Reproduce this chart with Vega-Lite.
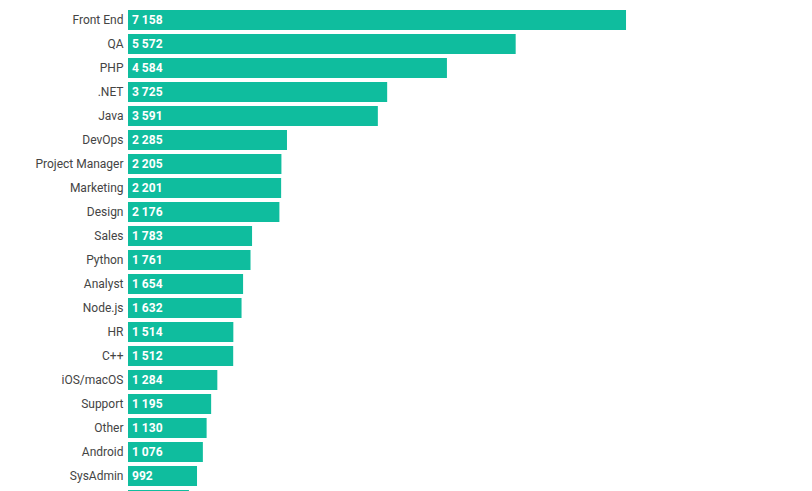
{
  "$schema": "https://vega.github.io/schema/vega-lite/v6.json",
  "autosize": {"type": "none"},
  "padding": {"left": 128, "top": 0, "right": 0, "bottom": 0},
  "width": 684,
  "height": 491,
  "background": "white",
  "config": {
    "view": {"stroke": null},
    "font": "Roboto",
    "locale": {
      "number": {"decimal": ".", "thousands": " ", "grouping": [3], "currency": ["", ""]}
    }
  },
  "data": {
    "values": [
      {"category": "Front End", "count": 7158},
      {"category": "QA", "count": 5572},
      {"category": "PHP", "count": 4584},
      {"category": ".NET", "count": 3725},
      {"category": "Java", "count": 3591},
      {"category": "DevOps", "count": 2285},
      {"category": "Project Manager", "count": 2205},
      {"category": "Marketing", "count": 2201},
      {"category": "Design", "count": 2176},
      {"category": "Sales", "count": 1783},
      {"category": "Python", "count": 1761},
      {"category": "Analyst", "count": 1654},
      {"category": "Node.js", "count": 1632},
      {"category": "HR", "count": 1514},
      {"category": "C++", "count": 1512},
      {"category": "iOS/macOS", "count": 1284},
      {"category": "Support", "count": 1195},
      {"category": "Other", "count": 1130},
      {"category": "Android", "count": 1076},
      {"category": "SysAdmin", "count": 992},
      {"category": "Golang", "count": 876}
    ]
  },
  "encoding": {
    "y": {
      "field": "category",
      "type": "nominal",
      "sort": {"field": "count", "order": "descending"},
      "title": null,
      "scale": {"range": [8, 512], "paddingInner": 0.1667, "paddingOuter": 0.0833},
      "axis": {
        "domain": false,
        "ticks": false,
        "labelPadding": 5,
        "labelFontSize": 12,
        "labelColor": "#444444",
        "labelFont": "Roboto"
      }
    },
    "x": {
      "field": "count",
      "type": "quantitative",
      "scale": {"domain": [0, 9831], "nice": false},
      "axis": null
    }
  },
  "layer": [
    {
      "mark": {"type": "bar", "color": "#0fbd9e", "clip": true}
    },
    {
      "mark": {
        "type": "text",
        "align": "left",
        "baseline": "middle",
        "dx": 4,
        "color": "white",
        "fontWeight": "bold",
        "fontSize": 12,
        "font": "Roboto",
        "clip": true
      },
      "encoding": {
        "x": {"datum": 0, "type": "quantitative"},
        "text": {"field": "count", "type": "quantitative", "format": ",d"}
      }
    }
  ]
}
